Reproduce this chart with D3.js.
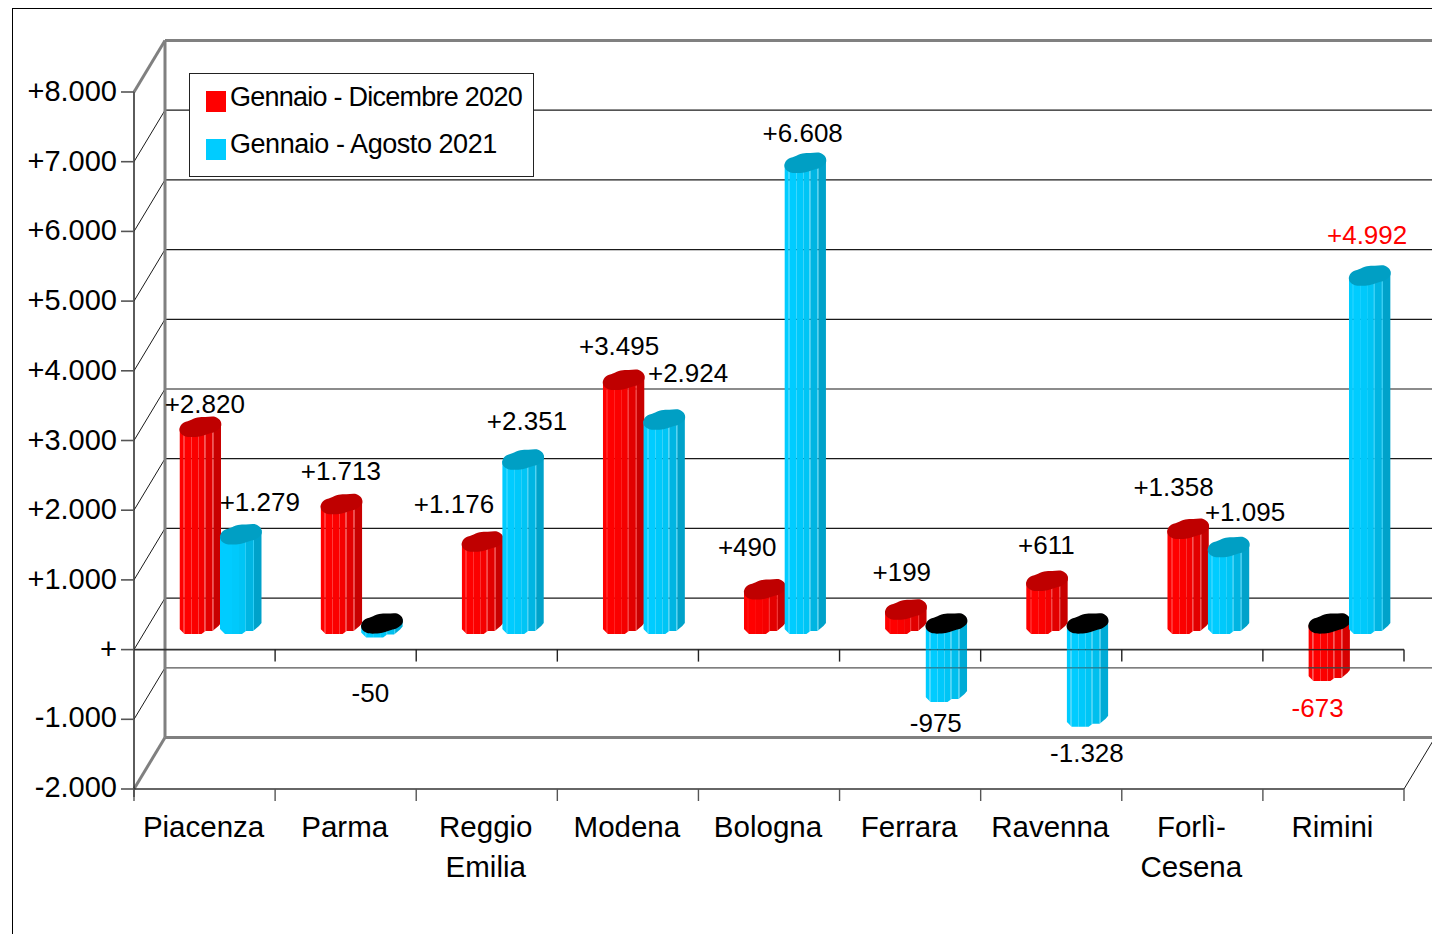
<!DOCTYPE html>
<html><head><meta charset="utf-8">
<script src="https://cdn.jsdelivr.net/npm/d3@7/dist/d3.min.js"></script>
<style>html,body{margin:0;padding:0;background:#fff;overflow:hidden}svg{display:block}text{font-family:"Liberation Sans",Arial,sans-serif;fill:#000}</style>
</head><body><svg id="c" width="1432" height="934"></svg>
<script>
// ---- data ----
const categories = ["Piacenza","Parma","Reggio\nEmilia","Modena","Bologna","Ferrara","Ravenna","Forlì-\nCesena","Rimini"];
const seriesNames = ["Gennaio - Dicembre 2020","Gennaio - Agosto 2021"];
const values2020 = [2820,1713,1176,3495,490,199,611,1358,-673];
const values2021 = [1279,-50,2351,2924,6608,-975,-1328,1095,4992];
const valueTicks = [-2000,-1000,0,1000,2000,3000,4000,5000,6000,7000,8000];
// label nudges relative to the end of each bar (layout only)
const labelDx2020 = [5,0,-28,-4,-17,-3.5,0,-14,-11];
const labelDy2020 = [-34,-44,-48,-44,-53,-48,-47,-52,27];
const labelDx2021 = [19.5,-11,4.5,24.5,-2,-10,0,17,-2];
const labelDy2021 = [-43,55.5,-49,-57,-41,21,26,-46,-51];
const highlighted = ["Rimini"];

const svg = d3.select("#c");
const fmtIt = d3.formatLocale({decimal:",",thousands:".",grouping:[3],currency:["","€"]}).format(",");
const signed = v => v===0 ? "+" : (v>0?"+":"-")+fmtIt(Math.abs(v));

const x = d3.scaleBand().domain(categories).range([134,1404]);
const y = d3.scaleLinear().domain([-2000,8000]).range([789,92]);
const inner = d3.scaleBand().domain(seriesNames).range([45.5,126.5]);
const depth = {x:31,y:-51.5}, barLift = -16.5;
const gridDark="#1a1a1a", gray="#808080", axisDark="#333";

const line=(x1,y1,x2,y2,c,w)=>svg.append("line").attr("x1",x1).attr("y1",y1).attr("x2",x2).attr("y2",y2).attr("stroke",c).attr("stroke-width",w);

// outer frame
line(12,8.5,1432,8.5,"#000",1); line(12.5,8,12.5,934,"#000",1);

// walls
const gridTicks = valueTicks.filter(v=>v>-2000 && v<8000);
gridTicks.forEach(v=>{
  line(134,y(v),134+depth.x,y(v)+depth.y,gridDark,1);
  line(134+depth.x,y(v)+depth.y,1432,y(v)+depth.y,v<0?"#555":gridDark,1.2);
});
line(134,y(8000),134+depth.x,y(8000)+depth.y,gray,3);
line(134,y(-2000),134+depth.x,y(-2000)+depth.y,gray,3);
line(134+depth.x,y(8000)+depth.y,1432,y(8000)+depth.y,gray,3);
line(134+depth.x,y(-2000)+depth.y,1432,y(-2000)+depth.y,gray,3);
line(134+depth.x,y(8000)+depth.y,134+depth.x,y(-2000)+depth.y,gray,3);
line(1404,y(-2000),1404+depth.x,y(-2000)+depth.y,gridDark,1);

// axes
line(134,y(8000),134,y(-2000)+8,axisDark,1.6);
valueTicks.forEach(v=>{
  line(121,y(v),134,y(v),"#555",1.6);
  svg.append("text").attr("x",117).attr("y",y(v)+(v<0?8:9)).attr("text-anchor","end")
     .attr("font-size",29).text(signed(v));
});
[y(0),y(-2000)].forEach(yy=>line(134,yy,1404,yy,axisDark,1.6));
const bounds = categories.map(c=>x(c)).concat([1404]);
bounds.forEach((b,i)=>{
  if(i>0) line(b,y(0),b,y(0)+12,"#222",1.4);
  line(b,y(-2000),b,y(-2000)+12,"#555",1.4);
});
categories.forEach(c=>{
  const cx=x(c)+x.bandwidth()/2-1;
  c.split("\n").forEach((t,k)=>svg.append("text").attr("x",cx).attr("y",837+k*40)
    .attr("text-anchor","middle").attr("font-size",29.5).text(t));
});

// cylinders
const palette = {
  [seriesNames[0]]:{strips:["#ff0000","#fb0000","#f50000","#ee0000","#e20000","#d60000","#c80000"],light:"#f53030",cap:"#bf0000"},
  [seriesNames[1]]:{strips:["#00ccff","#00c9fb","#00c5f5","#00bfee","#00b5e2","#00abd6","#00a2ca"],light:"#2ccdf5",cap:"#009fc4"}
};
const stripEdges=[0,4,5,12,19,25,26,33,34,41];
const rows = [];
categories.forEach((c,i)=>{
  rows.push({c,s:seriesNames[0],v:values2020[i],dx:labelDx2020[i],dy:labelDy2020[i]});
  rows.push({c,s:seriesNames[1],v:values2021[i],dx:labelDx2021[i],dy:labelDy2021[i]});
});
const capShape=[[0,-8],[3,-13],[10,-16],[18,-19],[26,-19.5],[36,-19.5],[41,-15.5],[41.5,-10],[36,-5],[30,-3],[24,-1],[20,0],[6,0],[1,-3.5]];
const capPath=d3.line().curve(d3.curveCatmullRomClosed.alpha(0.5));
const overlays=[];
rows.forEach((d,n)=>{
  const x0=x(d.c)+inner(d.s), topY=y(Math.max(d.v,0))+barLift, botY=y(Math.min(d.v,0))+barLift;
  const pal=palette[d.s], s=pal.strips, L=pal.light;
  const g=svg.append("g").attr("class","bar");
  const body=[[0,topY-8],[41.5,topY-14],[41.5,botY-10],[39,botY-7],[33,botY-2],[26,botY-2],[22,botY+1],[5,botY+1],[0,botY-4]].map(p=>[x0+p[0],p[1]]);
  const id="b"+n;
  g.append("clipPath").attr("id",id).append("polygon").attr("points",body.join(" "));
  const clip=g.append("g").attr("clip-path",`url(#${id})`);
  const stripColors = d.v<0
    ? [s[0],L,s[0],s[1],s[2],L,s[3],L,s[5]]
    : [s[0],s[0],s[0],s[1],s[2],L,s[4],L,s[6]];
  stripColors.forEach((col,k)=>clip.append("rect").attr("x",x0+stripEdges[k]).attr("width",stripEdges[k+1]-stripEdges[k]+(k==8?1:0))
    .attr("y",topY-30).attr("height",botY-topY+45).attr("fill",col));
  g.append("path").attr("fill",d.v<0?"#000":pal.cap)
    .attr("d",capPath(capShape.map(p=>[x0+p[0],topY+p[1]])));
  if(d.v<-100) overlays.push({x0,d});
});
// axis and grid show through the parts of the bars below zero
overlays.forEach(o=>{
  [[y(0),"#222"],[y(-1000)+depth.y,"#444"]].forEach(([yy,c])=>{
    if(yy<y(o.d.v)+barLift) line(o.x0,yy,o.x0+41.5,yy,c,1.4).attr("opacity",o.d.s===seriesNames[0]?0.9:0.45);
  });
});
// data labels
rows.forEach(d=>{
  const cx=x(d.c)+inner(d.s)+inner.bandwidth()/2;
  const end=y(d.v)-15;
  svg.append("text").attr("x",cx+d.dx).attr("y",end+d.dy+8.5).attr("text-anchor","middle")
    .attr("font-size",26).style("fill",highlighted.includes(d.c)?"#ff0000":"#000").text(signed(d.v));
});

// legend
svg.append("rect").attr("x",189.5).attr("y",73.5).attr("width",344).attr("height",103).attr("fill","#fff").attr("stroke","#222").attr("stroke-width",1);
const legendSpacing=[-0.75,-0.45];
seriesNames.forEach((s,i)=>{
  const yy=91+i*48;
  svg.append("rect").attr("x",206).attr("y",yy).attr("width",20).attr("height",21).attr("fill",i?"#00ccff":"#ff0000");
  svg.append("text").attr("x",230).attr("y",yy+14.5-i).attr("font-size",27).attr("letter-spacing",legendSpacing[i]).text(s);
});
</script></body></html>
